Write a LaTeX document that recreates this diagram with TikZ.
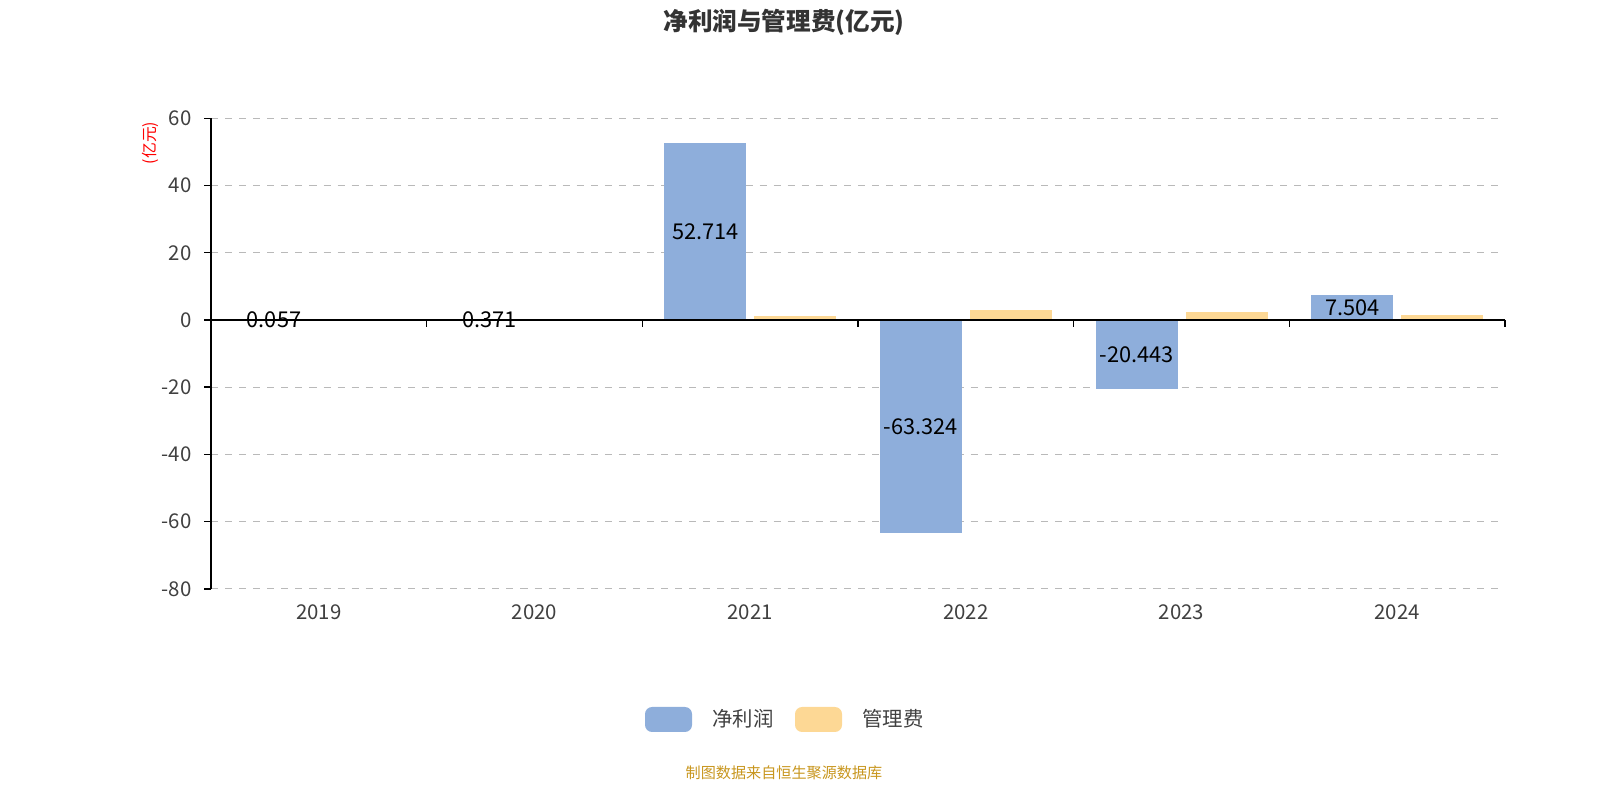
\documentclass[tikz,border=0pt]{standalone}
\usepackage{fontspec}
\setmainfont{Noto Sans CJK SC}
\begin{document}
\begin{tikzpicture}[x=0.01cm,y=0.01cm,
  grid/.style={draw=gray!55,dashed,dash pattern=on 2pt off 2pt,line width=0.3pt},
  netbar/.style={fill={rgb,255:red,142;green,174;blue,219}},
  feebar/.style={fill={rgb,255:red,253;green,216;blue,149}},
  lbl/.style={font=\fontsize{6.2}{6.2}\selectfont,text=black,inner sep=0pt},
  tick/.style={font=\fontsize{5.8}{5.8}\selectfont,text=black!75}]
\useasboundingbox (0,0) rectangle (1600,800);
% grid
\foreach \v in {60,40,20,-20,-40,-60,-80}{
  \draw[grid] (211,{480+\v*3.36}) -- (1505,{480+\v*3.36});
  \node[tick,anchor=east] at (204,{480+\v*3.36}) {\v};
  \draw[line width=0.4pt] (204,{480+\v*3.36}) -- (211,{480+\v*3.36});
}
\node[tick,anchor=east] at (204,480) {0};
\draw[line width=0.4pt] (204,480) -- (211,480);
\draw[line width=0.4pt] (211,{480-80*3.36}) -- (211,{480+60*3.36});
% bars
\foreach \i/\n/\f/\lab [count=\k from 0] in {2019/0.057/0.1/0.057,2020/0.371/0.15/0.371,2021/52.714/1.3/52.714,2022/-63.324/3.0/-63.324,2023/-20.443/2.3/-20.443,2024/7.504/1.5/7.504}{
  \pgfmathsetmacro\x{211+\k*215.67}
  \fill[netbar] ({\x+22},480) rectangle ({\x+104},{480+\n*3.36});
  \fill[feebar] ({\x+112},480) rectangle ({\x+194},{480+\f*3.36});
  \node[lbl] (L\k) at ({\x+63},{480+\n*3.36/2}) {\lab};
  \node[tick] (T\k) at ({\x+107.8},188) {\i};
}
\draw[line width=0.4pt] (211,480) -- (1505,480);
\foreach \k in {0,...,6}{\draw[line width=0.4pt] ({211+\k*215.67},480) -- ({211+\k*215.67},473);}
\node[text=red,rotate=90,font=\fontsize{4.5}{4.5}\selectfont] (u) at (150,657) {(亿元)};
\node[font=\bfseries\fontsize{7}{7}\selectfont,text=black!80] (t) at (784,778) {净利润与管理费(亿元)};
\fill[netbar,rounded corners=2pt] (645,68) rectangle (692,93);
\node[tick,anchor=west] (l1) at (700,81) {净利润};
\fill[feebar,rounded corners=2pt] (795,68) rectangle (842,93);
\node[tick,anchor=west] (l2) at (850,81) {管理费};
\node[text={rgb,255:red,200;green,150;blue,30},font=\fontsize{4.3}{4.3}\selectfont] (s) at (784,27) {制图数据来自恒生聚源数据库};
\end{tikzpicture}
\end{document}
